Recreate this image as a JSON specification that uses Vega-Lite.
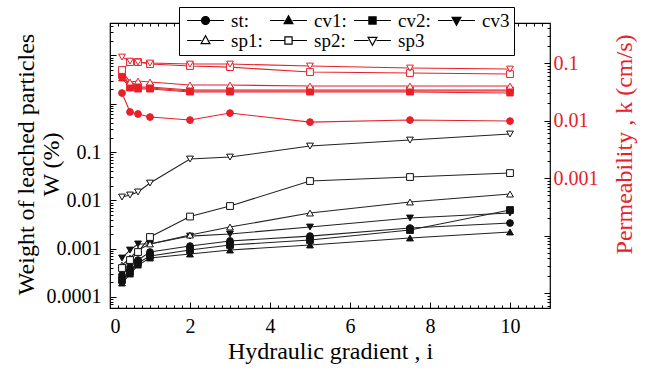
{
  "$schema": "https://vega.github.io/schema/vega-lite/v6.json",
  "width": 440,
  "height": 285,
  "autosize": {"type": "none"},
  "padding": {"left": 110, "top": 23, "right": 96, "bottom": 65},
  "background": "white",
  "config": {
    "view": {"stroke": "black", "strokeWidth": 1.2},
    "font": "Liberation Serif",
    "axis": {"grid": false, "domain": false, "tickColor": "black", "labelColor": "black", "labelFont": "Liberation Serif", "titleFont": "Liberation Serif", "titleFontWeight": "normal", "labelFontSize": 20, "titleFontSize": 24, "titleColor": "black"},
    "legend": {"labelFont": "Liberation Serif", "labelFontSize": 19, "labelColor": "black"}
  },
  "data": {
    "values": [
      {"i": 0.3, "s": "st", "W": 0.000284, "k": 0.0301},
      {"i": 0.5, "s": "st", "W": 0.000416, "k": 0.0141},
      {"i": 0.7, "s": "st", "W": 0.000581, "k": 0.0130},
      {"i": 1, "s": "st", "W": 0.000851, "k": 0.0115},
      {"i": 2, "s": "st", "W": 0.00113, "k": 0.0102},
      {"i": 3, "s": "st", "W": 0.00144, "k": 0.0135},
      {"i": 5, "s": "st", "W": 0.00182, "k": 0.0094},
      {"i": 7.5, "s": "st", "W": 0.00267, "k": 0.0102},
      {"i": 10, "s": "st", "W": 0.00339, "k": 0.0098},
      {"i": 0.3, "s": "cv1", "W": 0.000194, "k": 0.0549},
      {"i": 0.5, "s": "cv1", "W": 0.000298, "k": 0.0368},
      {"i": 0.7, "s": "cv1", "W": 0.000457, "k": 0.0353},
      {"i": 1, "s": "cv1", "W": 0.000639, "k": 0.0353},
      {"i": 2, "s": "cv1", "W": 0.000773, "k": 0.0313},
      {"i": 3, "s": "cv1", "W": 0.000935, "k": 0.0313},
      {"i": 5, "s": "cv1", "W": 0.00119, "k": 0.0313},
      {"i": 7.5, "s": "cv1", "W": 0.00166, "k": 0.0313},
      {"i": 10, "s": "cv1", "W": 0.00221, "k": 0.0301},
      {"i": 0.3, "s": "cv2", "W": 0.000224, "k": 0.0618},
      {"i": 0.5, "s": "cv2", "W": 0.000328, "k": 0.0383},
      {"i": 0.7, "s": "cv2", "W": 0.000504, "k": 0.0368},
      {"i": 1, "s": "cv2", "W": 0.000703, "k": 0.0368},
      {"i": 2, "s": "cv2", "W": 0.000935, "k": 0.0326},
      {"i": 3, "s": "cv2", "W": 0.00119, "k": 0.0326},
      {"i": 5, "s": "cv2", "W": 0.00151, "k": 0.0326},
      {"i": 7.5, "s": "cv2", "W": 0.00243, "k": 0.0326},
      {"i": 10, "s": "cv2", "W": 0.0063, "k": 0.0326},
      {"i": 0.3, "s": "cv3", "W": 0.000639, "k": 0.0697},
      {"i": 0.5, "s": "cv3", "W": 0.000935, "k": 0.0398},
      {"i": 0.7, "s": "cv3", "W": 0.00125, "k": 0.0383},
      {"i": 1, "s": "cv3", "W": 0.00125, "k": 0.0383},
      {"i": 2, "s": "cv3", "W": 0.00182, "k": 0.0339},
      {"i": 3, "s": "cv3", "W": 0.00201, "k": 0.0339},
      {"i": 5, "s": "cv3", "W": 0.0028, "k": 0.0339},
      {"i": 7.5, "s": "cv3", "W": 0.00431, "k": 0.0339},
      {"i": 10, "s": "cv3", "W": 0.00546, "k": 0.0339},
      {"i": 0.3, "s": "sp1", "W": 0.000457, "k": 0.0726},
      {"i": 0.5, "s": "sp1", "W": 0.000639, "k": 0.0467},
      {"i": 0.7, "s": "sp1", "W": 0.000935, "k": 0.0486},
      {"i": 1, "s": "sp1", "W": 0.00125, "k": 0.0467},
      {"i": 2, "s": "sp1", "W": 0.00191, "k": 0.0414},
      {"i": 3, "s": "sp1", "W": 0.0028, "k": 0.0414},
      {"i": 5, "s": "sp1", "W": 0.00546, "k": 0.0398},
      {"i": 7.5, "s": "sp1", "W": 0.00923, "k": 0.0398},
      {"i": 10, "s": "sp1", "W": 0.0135, "k": 0.0398},
      {"i": 0.3, "s": "sp2", "W": 0.000397, "k": 0.0756},
      {"i": 0.5, "s": "sp2", "W": 0.000581, "k": 0.104},
      {"i": 0.7, "s": "sp2", "W": 0.000851, "k": 0.104},
      {"i": 1, "s": "sp2", "W": 0.00174, "k": 0.096},
      {"i": 2, "s": "sp2", "W": 0.00462, "k": 0.0887},
      {"i": 3, "s": "sp2", "W": 0.00762, "k": 0.085},
      {"i": 5, "s": "sp2", "W": 0.0251, "k": 0.0697},
      {"i": 7.5, "s": "sp2", "W": 0.0304, "k": 0.067},
      {"i": 10, "s": "sp2", "W": 0.0367, "k": 0.0643},
      {"i": 0.3, "s": "sp3", "W": 0.0117, "k": 0.127},
      {"i": 0.5, "s": "sp3", "W": 0.0129, "k": 0.108},
      {"i": 0.7, "s": "sp3", "W": 0.0149, "k": 0.104},
      {"i": 1, "s": "sp3", "W": 0.0228, "k": 0.1},
      {"i": 2, "s": "sp3", "W": 0.0716, "k": 0.096},
      {"i": 3, "s": "sp3", "W": 0.0787, "k": 0.096},
      {"i": 5, "s": "sp3", "W": 0.133, "k": 0.0887},
      {"i": 7.5, "s": "sp3", "W": 0.177, "k": 0.0819},
      {"i": 10, "s": "sp3", "W": 0.236, "k": 0.0786}
    ]
  },
  "layer": [
    {
      "layer": [
        {
          "mark": {"type": "line", "color": "#222222", "strokeWidth": 1.1},
          "encoding": {
            "x": {"field": "i", "type": "quantitative", "scale": {"domain": [0, 11], "nice": false, "zero": false},
              "axis": {"orient": "bottom", "values": [0, 2, 4, 6, 8, 10], "tickSize": -6, "labelPadding": 14, "title": "Hydraulic gradient , i", "titlePadding": 3}},
            "y": {"field": "W", "type": "quantitative", "scale": {"type": "log", "domain": [0.000059, 47], "nice": false},
              "axis": {"orient": "left", "values": [0.0001, 0.001, 0.01, 0.1, 1, 10], "tickSize": -6, "labelPadding": 15, "labelExpr": "datum.value <= 0.11 ? toString(datum.value) : ''", "title": ["Weight of leached particles", "W (%)"], "titleLineHeight": 25, "titleX": -72, "titleY": 141, "titleBaseline": "bottom", "titleAngle": 270}},
            "detail": {"field": "s"}
          }
        },
        {
          "mark": {"type": "point", "size": 46, "strokeWidth": 1, "stroke": "#111111", "opacity": 1},
          "encoding": {
            "x": {"field": "i", "type": "quantitative",
              "axis": {"orient": "bottom", "values": [0.2,0.4,0.6,0.8,1,1.2,1.4,1.6,1.8,2.2,2.4,2.6,2.8,3,3.2,3.4,3.6,3.8,4.2,4.4,4.6,4.8,5,5.2,5.4,5.6,5.8,6.2,6.4,6.6,6.8,7,7.2,7.4,7.6,7.8,8.2,8.4,8.6,8.8,9,9.2,9.4,9.6,9.8,10.2,10.4,10.6,10.8], "tickSize": -3, "labels": false, "title": null}},
            "y": {"field": "W", "type": "quantitative",
              "axis": {"orient": "left", "values": [0.00006,0.00007,0.00008,0.00009,0.0002,0.0003,0.0004,0.0005,0.0006,0.0007,0.0008,0.0009,0.002,0.003,0.004,0.005,0.006,0.007,0.008,0.009,0.02,0.03,0.04,0.05,0.06,0.07,0.08,0.09,0.2,0.3,0.4,0.5,0.6,0.7,0.8,0.9,2,3,4,5,6,7,8,9,20,30,40], "tickSize": -3, "labels": false, "title": null}},
            "shape": {"field": "s", "type": "nominal",
              "scale": {"domain": ["st", "cv1", "cv2", "cv3", "sp1", "sp2", "sp3"], "range": ["circle", "triangle-up", "square", "triangle-down", "triangle-up", "square", "triangle-down"]},
              "legend": null},
            "fill": {"condition": {"test": "indexof(['sp1','sp2','sp3'], datum.s) >= 0", "value": "white"}, "value": "#111111"}
          }
        }
      ],
      "resolve": {"axis": {"x": "independent", "y": "independent"}}
    },
    {
      "layer": [
        {
          "mark": {"type": "line", "color": "#e8202a", "strokeWidth": 1.1},
          "encoding": {
            "x": {"field": "i", "type": "quantitative",
              "axis": {"orient": "top", "values": [0, 2, 4, 6, 8, 10], "tickSize": -6, "labels": false, "title": null}},
            "y": {"field": "k", "type": "quantitative", "scale": {"type": "log", "domain": [0.0000055, 0.497], "nice": false},
              "axis": {"orient": "right", "values": [0.00001, 0.0001, 0.001, 0.01, 0.1], "tickSize": -6, "labelPadding": 9, "labelColor": "#e8202a", "labelExpr": "datum.value >= 0.001 ? toString(datum.value) : ''", "title": "Permeability , k (cm/s)", "titleColor": "#e8202a", "titleAngle": 270, "titleBaseline": "bottom", "titleX": 86, "titleY": 121}},
            "detail": {"field": "s"}
          }
        },
        {
          "mark": {"type": "point", "size": 46, "strokeWidth": 1, "stroke": "#e8202a", "opacity": 1},
          "encoding": {
            "x": {"field": "i", "type": "quantitative",
              "axis": {"orient": "top", "values": [0.2,0.4,0.6,0.8,1,1.2,1.4,1.6,1.8,2.2,2.4,2.6,2.8,3,3.2,3.4,3.6,3.8,4.2,4.4,4.6,4.8,5,5.2,5.4,5.6,5.8,6.2,6.4,6.6,6.8,7,7.2,7.4,7.6,7.8,8.2,8.4,8.6,8.8,9,9.2,9.4,9.6,9.8,10.2,10.4,10.6,10.8], "tickSize": -3, "labels": false, "title": null}},
            "y": {"field": "k", "type": "quantitative",
              "axis": {"orient": "right", "values": [0.000006,0.000007,0.000008,0.000009,0.00002,0.00003,0.00004,0.00005,0.00006,0.00007,0.00008,0.00009,0.0002,0.0003,0.0004,0.0005,0.0006,0.0007,0.0008,0.0009,0.002,0.003,0.004,0.005,0.006,0.007,0.008,0.009,0.02,0.03,0.04,0.05,0.06,0.07,0.08,0.09,0.2,0.3,0.4], "tickSize": -3, "labels": false, "title": null}},
            "shape": {"field": "s", "type": "nominal",
              "scale": {"domain": ["st", "cv1", "cv2", "cv3", "sp1", "sp2", "sp3"], "range": ["circle", "triangle-up", "square", "triangle-down", "triangle-up", "square", "triangle-down"]},
              "legend": null},
            "fill": {"condition": {"test": "indexof(['sp1','sp2','sp3'], datum.s) >= 0", "value": "white"}, "value": "#e8202a"}
          }
        }
      ],
      "resolve": {"axis": {"x": "independent", "y": "independent"}}
    },
    {
      "transform": [{"filter": "false"}],
      "mark": {"type": "point", "stroke": "black", "strokeWidth": 1.2, "opacity": 1},
      "encoding": {
        "shape": {"field": "s", "type": "nominal",
          "scale": {"domain": ["st", "cv1", "cv2", "cv3", "sp1", "sp2", "sp3"],
            "range": [
              "M-4.6,0H-1.1M1.1,0H4.6M-1,0A1,1,0,1,1,1,0A1,1,0,1,1,-1,0Z",
              "M-4.6,0H-1M1,0H4.6M0,-1.2L1.1,0.8L-1.1,0.8Z",
              "M-4.6,0H-0.9M0.9,0H4.6M-0.9,-0.9H0.9V0.9H-0.9Z",
              "M-4.6,0H-1M1,0H4.6M0,1.2L1.1,-0.8L-1.1,-0.8Z",
              "M-4.6,0H-1M1,0H4.6M0,-1.2L1.1,0.8L-1.1,0.8Z",
              "M-4.6,0H-0.9M0.9,0H4.6M-0.9,-0.9H0.9V0.9H-0.9Z",
              "M-4.6,0H-1M1,0H4.6M0,1.2L1.1,-0.8L-1.1,-0.8Z"
            ]},
          "legend": {
            "orient": "none", "legendX": 69, "legendY": -16, "title": null, "columns": 4, "gridAlign": "none",
            "direction": "horizontal",
            "symbolSize": 64, "symbolOffset": 13, "labelOffset": 16, "columnPadding": 3, "rowPadding": 0,
            "symbolStrokeWidth": 1.2,
            "padding": 4, "strokeColor": "black", "fillColor": "white", "cornerRadius": 0,
            "labelExpr": "datum.label === 'cv3' || datum.label === 'sp3' ? datum.label : datum.label + ':'"
          }},
        "fill": {"field": "s", "type": "nominal",
          "scale": {"domain": ["st", "cv1", "cv2", "cv3", "sp1", "sp2", "sp3"], "range": ["black", "black", "black", "black", "white", "white", "white"]}},
        "stroke": {"field": "s", "type": "nominal",
          "scale": {"domain": ["st", "cv1", "cv2", "cv3", "sp1", "sp2", "sp3"], "range": ["black", "black", "black", "black", "black", "black", "black"]}}
      }
    }
  ],
  "resolve": {"scale": {"y": "independent", "shape": "independent", "fill": "independent", "stroke": "independent"}, "axis": {"x": "independent", "y": "independent"}}
}
